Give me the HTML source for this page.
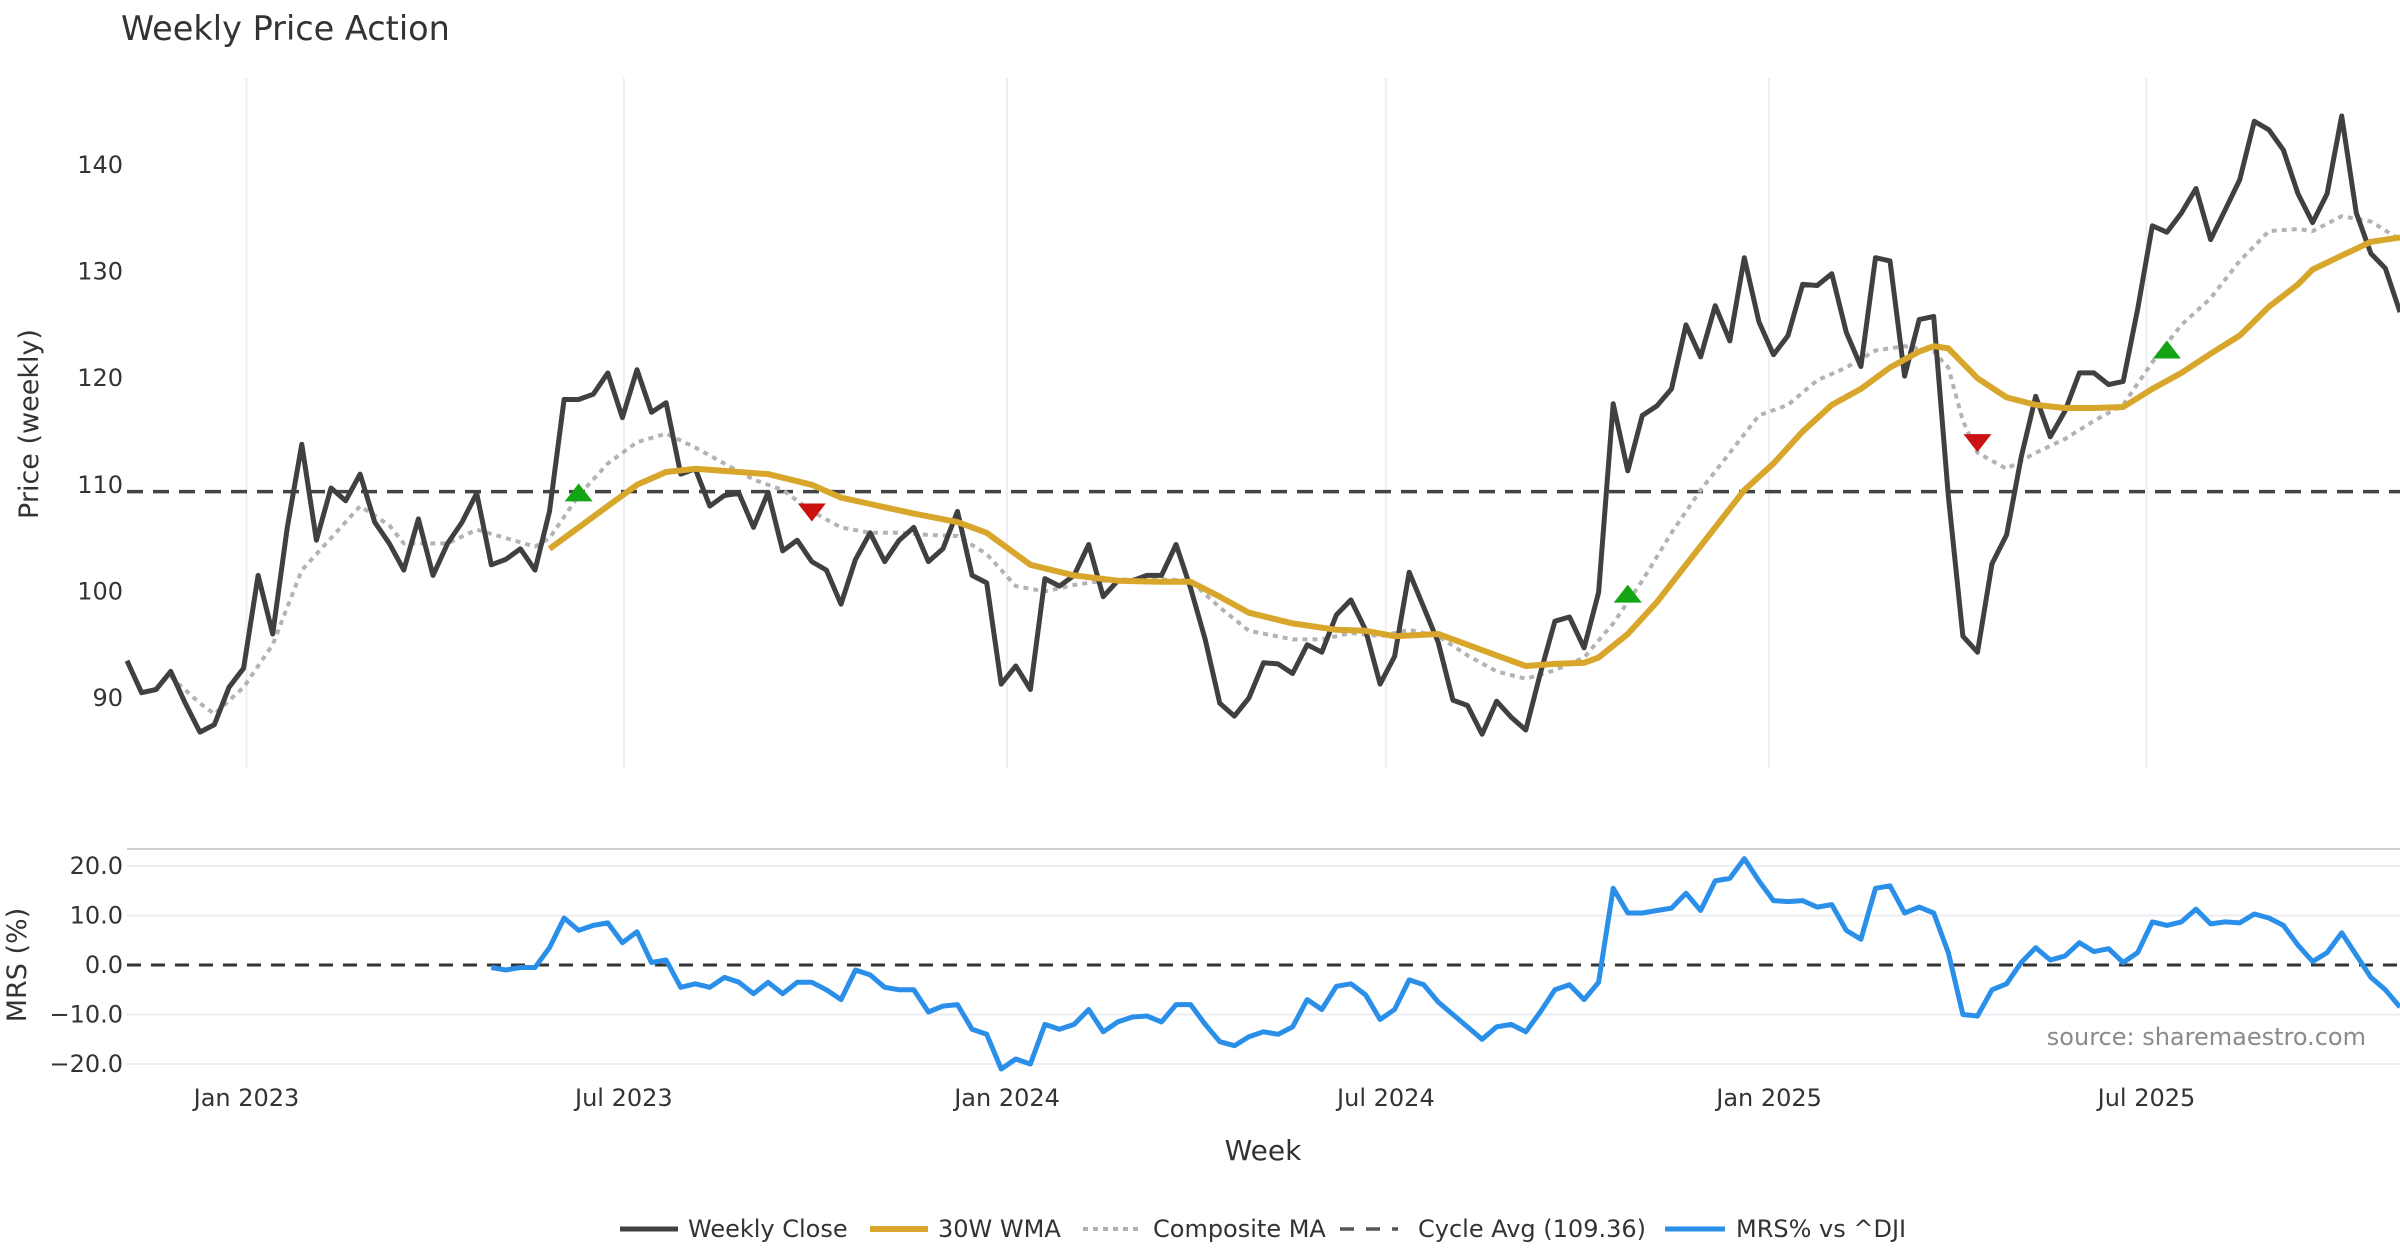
<!DOCTYPE html>
<html><head><meta charset="utf-8"><style>
html,body{margin:0;padding:0;background:#fff;}
svg{display:block;font-family:"DejaVu Sans","Liberation Sans",sans-serif;}
</style></head><body>
<svg id="chart" width="2400" height="1260" viewBox="0 0 2400 1260" xmlns="http://www.w3.org/2000/svg">
<text x="121" y="40" font-size="33.5" fill="#333">Weekly Price Action</text>
<text x="0" y="0" font-size="27" fill="#333" text-anchor="middle" transform="translate(38,424) rotate(-90)">Price (weekly)</text>
<text x="0" y="0" font-size="27" fill="#333" text-anchor="middle" transform="translate(26,965) rotate(-90)">MRS (%)</text>
<text x="1263" y="1160" font-size="28" fill="#333" text-anchor="middle">Week</text>
<text x="2366" y="1045" font-size="24" fill="#8a8a8a" text-anchor="end">source: sharemaestro.com</text>
<g id="grid"></g><g id="marks"></g>
<g font-size="24" fill="#333">
<line x1="620" y1="1229" x2="678" y2="1229" stroke="#404040" stroke-width="5"/>
<text x="688" y="1237">Weekly Close</text>
<line x1="870" y1="1229" x2="928" y2="1229" stroke="#d8a62a" stroke-width="6"/>
<text x="938" y="1237">30W WMA</text>
<line x1="1083" y1="1229" x2="1141" y2="1229" stroke="#b0b0b0" stroke-width="4" stroke-dasharray="5,5"/>
<text x="1153" y="1237">Composite MA</text>
<line x1="1340" y1="1229" x2="1398" y2="1229" stroke="#555" stroke-width="3.5" stroke-dasharray="14,12"/>
<text x="1418" y="1237">Cycle Avg (109.36)</text>
<line x1="1665" y1="1229" x2="1725" y2="1229" stroke="#2a8fe8" stroke-width="5"/>
<text x="1736" y="1237">MRS% vs ^DJI</text>
</g>
</svg>
<script>
const closes=[93.5,90.5,90.8,92.5,89.5,86.8,87.5,91,92.8,101.5,96,106,113.8,104.8,109.7,108.5,111,106.5,104.5,102,106.8,101.5,104.5,106.5,109.2,102.5,103,104,102,107.5,118,118,118.5,120.5,116.3,120.8,116.8,117.7,111,111.5,108,109,109.2,106,109.3,103.8,104.8,102.8,102,98.8,103,105.5,102.8,104.8,106,102.8,104,107.5,101.5,100.8,91.3,93,90.8,101.2,100.5,101.5,104.4,99.5,101,101,101.5,101.5,104.4,100.3,95.5,89.5,88.3,90,93.3,93.2,92.3,95,94.3,97.8,99.2,96.4,91.3,93.9,101.8,98.5,95.2,89.8,89.3,86.6,89.7,88.2,87,92.3,97.2,97.6,94.7,99.9,117.6,111.3,116.5,117.4,119,125,122,126.8,123.5,131.3,125.3,122.2,124,128.8,128.7,129.8,124.3,121.1,131.3,131,120.2,125.5,125.8,109,95.8,94.3,102.6,105.3,112.6,118.3,114.5,116.9,120.5,120.5,119.4,119.7,126.5,134.3,133.7,135.5,137.8,133,135.8,138.6,144.1,143.3,141.4,137.3,134.6,137.3,144.6,135.5,131.7,130.3,126.2];
const wmaWeeks=[29,31,33,35,37,39,42,44,47,49,51,54,57,59,62,65,68,71,73,75,77,80,83,85,87,90,92,94,96,98,100,101,103,105,107,109,111,113,115,117,119,121,123,124,125,127,129,131,133,135,137,139,141,143,145,147,149,150,152,154,156];
const wmaVals=[104,106,108,110,111.2,111.5,111.2,111,110,108.8,108.2,107.3,106.5,105.5,102.5,101.5,101,100.9,100.9,99.5,98,97,96.4,96.3,95.8,96,95,94,93,93.2,93.3,93.8,96,99,102.5,106,109.5,112,115,117.5,119,121,122.5,123,122.8,120,118.2,117.5,117.2,117.2,117.3,119,120.5,122.3,124,126.7,128.8,130.2,131.5,132.8,133.2];
const compWeeks=[3,5,6,8,10,12,14,16,18,19,22,24,26,28,29,31,33,35,37,39,41,43,45,47,49,51,53,55,57,59,61,63,65,67,70,73,75,77,80,82,84,86,88,90,92,94,96,98,100,102,104,106,108,110,112,114,116,118,120,122,124,125,126,127,129,131,133,135,137,139,141,143,145,147,149,150,152,154,156];
const compVals=[92,89.5,88.5,91,95,102,105,108,106.2,104.5,104.5,105.8,105,104.2,105,109,112,114,114.8,113.5,112,110.5,109.5,107.5,106,105.5,105.5,105.3,105.2,103.5,100.5,100,100.6,101,101.2,101,98.5,96.3,95.5,95.5,96.1,95.8,96.4,95.8,94,92.5,91.8,92.6,93.8,97,101,105.5,109.5,113,116.5,117.5,119.8,121,122.6,123,122.5,121,116,113,111.5,113,114.3,116,117.5,121.5,125,127.5,131,133.8,134,133.8,135.2,134.7,133];
const mrsStart=25;
const mrsVals=[-0.5,-1,-0.5,-0.5,3.5,9.5,7,8,8.5,4.5,6.7,0.5,1,-4.5,-3.8,-4.5,-2.5,-3.5,-5.8,-3.5,-5.8,-3.5,-3.5,-5,-7,-1,-2,-4.5,-5,-5,-9.5,-8.3,-8,-13,-14,-21,-19,-20,-12,-13,-12,-9,-13.5,-11.5,-10.5,-10.3,-11.5,-8,-8,-12,-15.5,-16.3,-14.5,-13.5,-14,-12.5,-7,-9,-4.3,-3.8,-6,-11,-9,-3,-4,-7.5,-10,-12.5,-15,-12.5,-12,-13.5,-9.5,-5,-4,-7,-3.5,15.5,10.5,10.5,11,11.5,14.5,11,17,17.5,21.5,17,13,12.8,13,11.7,12.2,7,5.2,15.5,16,10.5,11.7,10.5,2.5,-10,-10.3,-5,-3.8,0.5,3.5,1,1.8,4.5,2.7,3.3,0.5,2.5,8.7,8,8.7,11.3,8.3,8.7,8.5,10.3,9.5,8,4,0.7,2.5,6.5,2,-2.5,-5,-8.5];
const buyWeeks=[31,103,140];
const buyVals=[109.2,99.7,122.6];
const sellWeeks=[47,127];
const sellVals=[107.5,114.0];
const cycleAvg=109.36;
const priceTicks=[90,100,110,120,130,140];
const mrsTicks=[20,10,0,-10,-20];
const dateTickWeeks=[8.2,34.1,60.4,86.4,112.7,138.6];
const dateTickLabels=["Jan 2023","Jul 2023","Jan 2024","Jul 2024","Jan 2025","Jul 2025"];

const NS="http://www.w3.org/2000/svg";
const X0=127,X1=2400,NW=156;
const xS=w=>X0+(X1-X0)*w/NW;
const yP=v=>698-(v-90)*10.66;
const yM=v=>965-v*4.95;
function mk(tag,attrs,parent){const e=document.createElementNS(NS,tag);for(const k in attrs)e.setAttribute(k,attrs[k]);parent.appendChild(e);return e;}
const grid=document.getElementById('grid'),marks=document.getElementById('marks');
dateTickWeeks.forEach((w,i)=>{
  const g=mk('line',{x1:xS(w),x2:xS(w),y1:78,y2:768,stroke:'#eceef3','stroke-width':2},grid);
  
  
  const t=mk('text',{x:xS(w),y:1106,'font-size':24,fill:'#333','text-anchor':'middle'},grid);
  t.textContent=dateTickLabels[i];
  
  
});
priceTicks.forEach(v=>{
  const t=mk('text',{x:123,y:yP(v)+8,'font-size':24,fill:'#333','text-anchor':'end'},grid);
  t.textContent=v;
  
  
});
const sep=mk('line',{x1:X0,x2:X1,y1:849,y2:849,stroke:'#cfcfcf','stroke-width':2},grid);


mrsTicks.forEach(v=>{
  if(v!==0){const l=mk('line',{x1:X0,x2:X1,y1:yM(v),y2:yM(v),stroke:'#eceef3','stroke-width':2},grid);
  
  }
  const t=mk('text',{x:123,y:yM(v)+8,'font-size':24,fill:'#333','text-anchor':'end'},grid);
  t.textContent=(v<0?'\u2212':'')+Math.abs(v).toFixed(1);
  
  
});
const z=mk('line',{x1:X0,x2:X1,y1:yM(0),y2:yM(0),stroke:'#333','stroke-width':3,'stroke-dasharray':'14,10'},grid);


function poly(ws,vs,yf,attrs,name){
  const pts=vs.map((v,i)=>xS(ws(i)).toFixed(1)+','+yf(v).toFixed(1)).join(' ');
  const p=mk('polyline',Object.assign({points:pts,fill:'none','stroke-linejoin':'round'},attrs),marks);
  
  
}
const cy=mk('line',{x1:X0,x2:X1,y1:yP(cycleAvg),y2:yP(cycleAvg),stroke:'#444','stroke-width':3.5,'stroke-dasharray':'16,10'},marks);


poly(i=>compWeeks[i],compVals,yP,{stroke:'#b3b3b3','stroke-width':4,'stroke-dasharray':'5,5'},'composite-ma-line');
poly(i=>i,closes,yP,{stroke:'#404040','stroke-width':5},'weekly-close-line');
poly(i=>wmaWeeks[i],wmaVals,yP,{stroke:'#d8a62a','stroke-width':6},'wma-30w-line');
poly(i=>mrsStart+i,mrsVals,yM,{stroke:'#2a8fe8','stroke-width':5},'mrs-line');
buyWeeks.forEach((w,i)=>{
  const x=xS(w),y=yP(buyVals[i]);
  const t=mk('polygon',{points:`${x-14},${y+8} ${x+14},${y+8} ${x},${y-10}`,fill:'#14a514'},marks);
  
  
});
sellWeeks.forEach((w,i)=>{
  const x=xS(w),y=yP(sellVals[i]);
  const t=mk('polygon',{points:`${x-14},${y-8} ${x+14},${y-8} ${x},${y+10}`,fill:'#cc1111'},marks);
  
  
});
</script>
</body></html>
